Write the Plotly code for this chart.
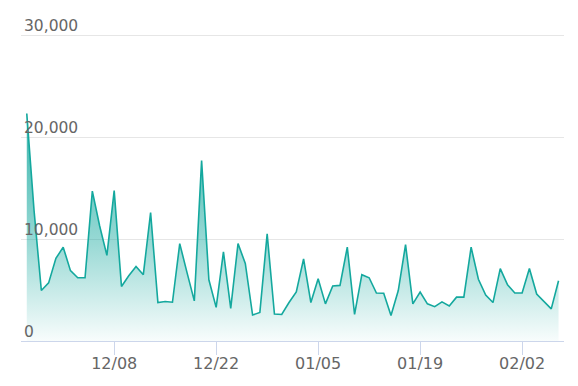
import pandas as pd
import plotly.graph_objects as go

start_date = "2019-11-26"
values = [22300, 12800, 4950, 5700, 8100, 9200, 6900, 6200, 6200, 14700,
          11300, 8400, 14750, 5350, 6400, 7300, 6500, 12600, 3770, 3870,
          3800, 9550, 6700, 3930, 17700, 6000, 3300, 8750, 3200, 9550,
          7600, 2550, 2800, 10500, 2650, 2600, 3770, 4800, 8050, 3770,
          6100, 3640, 5400, 5450, 9200, 2600, 6500, 6200, 4700, 4680,
          2500, 4950, 9450, 3640, 4800, 3640, 3370, 3840, 3440, 4300,
          4300, 9200, 6050, 4500, 3770, 7100, 5500, 4700, 4700, 7100,
          4600, 3870, 3150, 5900]
dates = pd.date_range(start_date, periods=len(values), freq="D")
tick_dates = ["2019-12-08", "2019-12-22", "2020-01-05", "2020-01-19", "2020-02-02"]
tick_labels = ["12/08", "12/22", "01/05", "01/19", "02/02"]
y_ticks = [0, 10000, 20000, 30000]
y_tick_labels = ["0", "10,000", "20,000", "30,000"]

line_color = "#14a89e"

fig = go.Figure()
fig.add_trace(go.Scatter(
    x=dates, y=values, mode="lines",
    line=dict(color=line_color, width=1.6),
    fill="tozeroy",
    fillgradient=dict(
        type="vertical",
        start=0, stop=max(values),
        colorscale=[[0, "rgba(20,168,158,0.03)"], [0.45, "rgba(20,168,158,0.45)"],
                    [1, "rgba(20,168,158,0.85)"]],
    ),
    showlegend=False,
    hoverinfo="x+y",
))

fig.update_layout(
    width=578, height=386,
    margin=dict(l=21, r=14, t=34, b=45),
    paper_bgcolor="white", plot_bgcolor="white",
    font=dict(family="DejaVu Sans", color="#666666", size=15),
    xaxis=dict(
        automargin=False,
        range=[pd.Timestamp("2019-11-25 05:00"), pd.Timestamp("2020-02-07 18:00")],
        tickvals=pd.to_datetime(tick_dates), ticktext=tick_labels,
        showgrid=False, zeroline=False,
        showline=True, linecolor="#ccd6eb", linewidth=1,
        ticks="outside", ticklen=13, tickcolor="#ccd6eb", tickwidth=1,
        ticklabelstandoff=-5,
        tickfont=dict(size=16, color="#666666"),
    ),
    yaxis=dict(
        automargin=False,
        range=[0, 30100],
        tickvals=y_ticks, ticktext=y_tick_labels,
        ticklabelposition="inside",
        ticklabeloverflow="allow",
        ticklabelshift=-9,
        ticklabelstandoff=0,
        showgrid=True, gridcolor="#e6e6e6", gridwidth=1,
        zeroline=False, showline=False, ticks="",
        tickfont=dict(size=15.5, color="#666666"),
    ),
)

fig.write_html("out.html")
